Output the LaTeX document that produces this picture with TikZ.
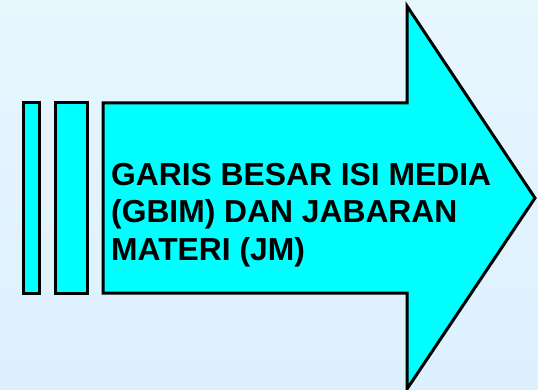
\documentclass[tikz,border=0pt]{standalone}
\usepackage{fontspec}
\setmainfont{Liberation Sans}
\begin{document}
\begin{tikzpicture}[x=1pt,y=-1pt,
  cyanform/.style={draw=black,line width=3pt,fill=aqua,line join=miter},
  caption/.style={font=\bfseries\fontsize{31.8}{37.5}\selectfont,align=left,anchor=base west,inner sep=0pt}]
  \definecolor{aqua}{HTML}{00FFFF}
  \definecolor{bgtop}{HTML}{E8F6FE}
  \definecolor{bgbot}{HTML}{DCF0FE}
  % background
  \shade[top color=bgtop,bottom color=bgbot] (0,0) rectangle (538,390);
  \useasboundingbox (0,0) rectangle (538,390);
  % stripes before the arrow
  \draw[cyanform] (23,103) rectangle (39,293);
  \draw[cyanform] (55,103) rectangle (87,293);
  % the block arrow
  \draw[cyanform] (103,103) -- (407,103) -- (407,6) -- (535,198)
     -- (407,389) -- (407,293) -- (103,293) -- cycle;
  % text inside the arrow (anchored on the baseline of its last line)
  \node[caption] (title) at (111,260) {GARIS BESAR ISI MEDIA\\(GBIM) DAN JABARAN\\MATERI (JM)};
\end{tikzpicture}
\end{document}
